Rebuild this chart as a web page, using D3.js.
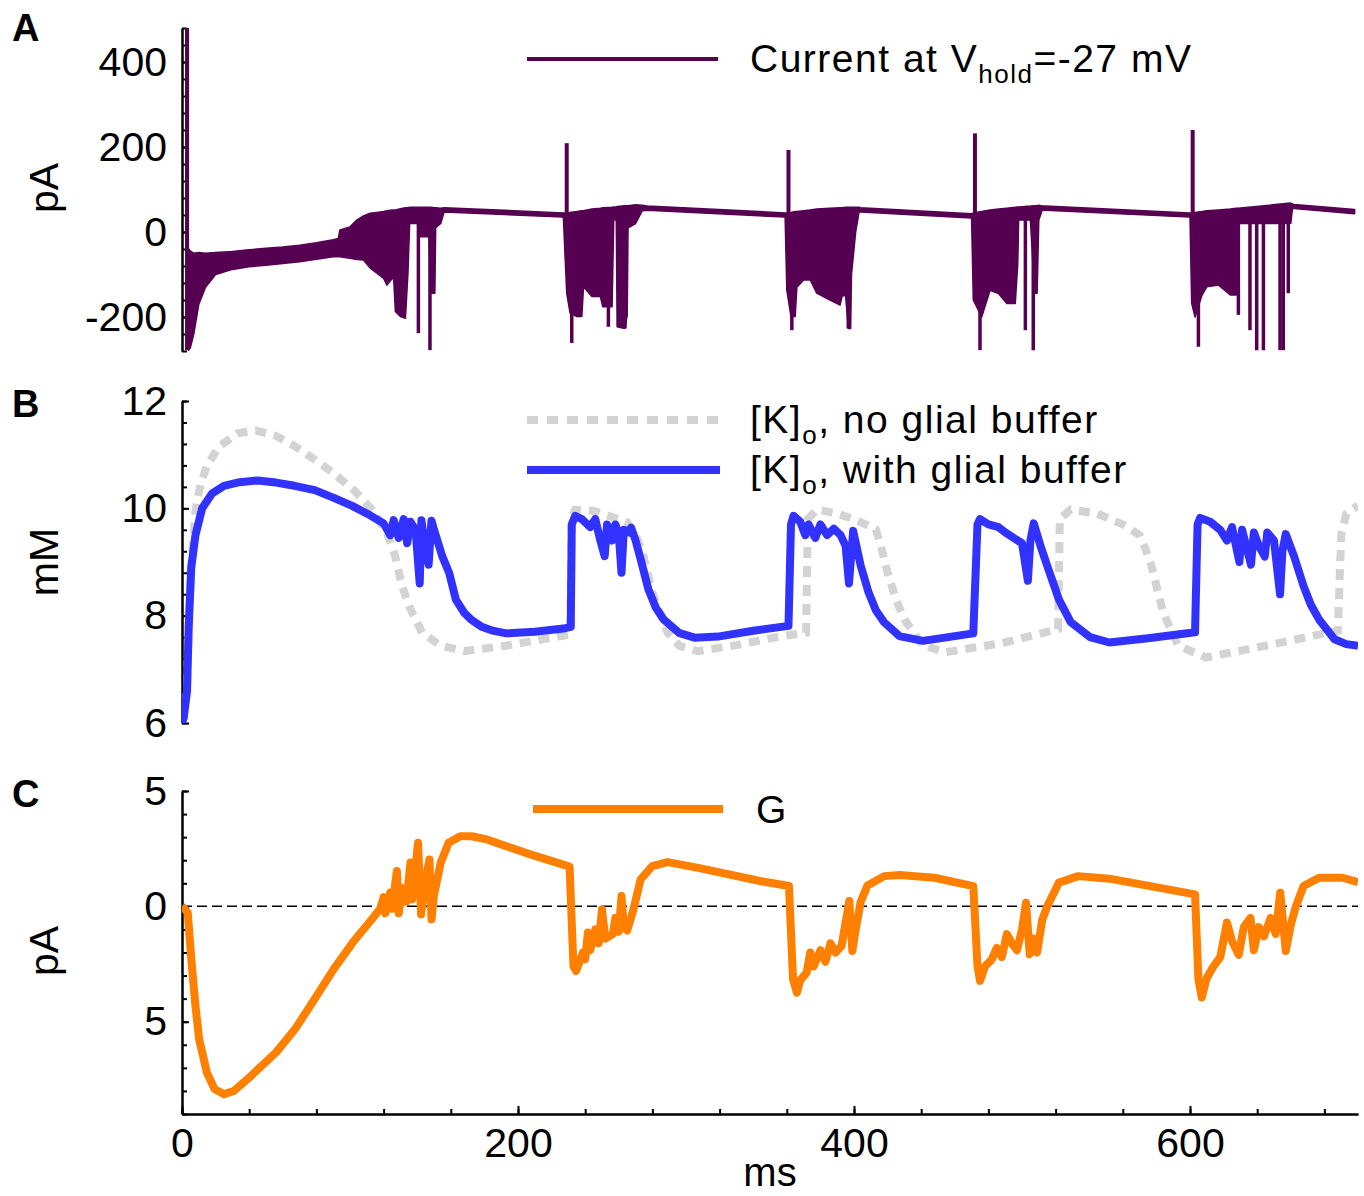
<!DOCTYPE html>
<html><head><meta charset="utf-8">
<script src="https://cdn.jsdelivr.net/npm/d3@7"></script>
<style>
body{margin:0;background:#fff}
svg{display:block}
text{font-family:"Liberation Sans",Arial,Helvetica,sans-serif}
</style>
</head><body>
<svg id="chart" width="1364" height="1196"></svg>
<script>
// ---------------- DATA ----------------
const xTicksMajor = [0, 200, 400, 600];
const xTickLabels = ["0", "200", "400", "600"];
const aTicksMajor = [-200, 0, 200, 400];
const aTickLabels = ["-200", "0", "200", "400"];
const bTicksMajor = [6, 8, 10, 12];
const bTickLabels = ["6", "8", "10", "12"];
const cTicksMajor = [-5, 0, 5];
const cTickLabels = ["5", "0", "5"];

// Panel A: current trace envelope [t (ms), upper pA, lower pA]
const currentBand = [
  [4,-40,-278],[5,-45,-272],[7,-50,-240],[10,-48,-170],[14,-50,-130],[20,-48,-100],
  [30,-46,-88],[40,-42,-82],[50,-38,-78],[60,-35,-74],[70,-31,-70],[80,-25,-64],
  [90,-18,-58],[93,-15,-58],[94,5,-58],[100,12,-62],[104,28,-65],[108,38,-66],
  [112,44,-85],[116,46,-97],[120,48,-109],[122,50,-125],[125,52,-110],[126,52,-110],
  [127,52,-187],[130,55,-199],[133,57,-203],[134.5,57,-97],[135.5,58,20],[141.5,58,20],
  [142,58,-11],[147,58,-11],[148,58,-144],[150.5,57,-144],[151,57,10],[154,56,20],
  [156,57,47],[227,45,35],
  [229,45,-144],[231,46,-191],[235,48,-199],[238,50,-199],[239,50,-129],[244,54,-152],
  [249,56,-152],[250.5,57,-176],[256,58,-176],[257,59,28],[258.5,59,28],[259,60,-223],
  [263.5,62,-227],[265,62,-197],[265.5,62,10],[270,64,20],[274,63,50],
  [277,61,51],[359,45,35],
  [360,45,-137],[362.5,46,-199],[365,48,-199],[366,48,-130],[370,50,-113],[374,52,-113],
  [377.8,54,-144],[385.7,56,-160],[391.7,57,-172],[393,57,-150],[395,58,-150],[396.6,58,-227],
  [398,58,-227],[398.5,58,-100],[401,58,0],[403,58,47],
  [404,57,47],[470,43,33],
  [471,45,-160],[476,48,-200],[481,52,-137],[486,54,-145],[491,56,-168],[496,58,-168],
  [497.5,59,-73],[498,59,28],[505,61,28],[507.5,62,-144],[509,62,-144],[510,63,28],[512,61,51],
  [514,61,51],[600,45,35],
  [601,45,-168],[603,46,-200],[607,48,-150],[610,50,-129],[617,52,-125],[624,54,-148],
  [627.5,56,-148],[628.5,56,20],[660,68,20],[661,66,56],
  [662,65,55],[698,53,43]
];
// Panel A: upward transients [t, peak pA]
const currentUpSpikes = [[3,480],[229,209],[361,193],[472,232],[601.6,240]];
// Panel A: downward transients [t, trough pA]
const currentDownSpikes = [
  [140.7,-238],[147.6,-278],
  [232,-261],[253.8,-223],[263.7,-227],
  [363,-231],[396.6,-227],
  [475,-278],[502,-231],[506.7,-278],
  [605,-270],[628.8,-195],[635.7,-231],[639.7,-278],[643.7,-278],[653.6,-278],[655.5,-278],[658.5,-144]
];

// Panel B: [K]o without glial buffer [t, mM]
const kNoBuffer = [
  [0,6.0],[1,6.1],[3,6.6],[4,7.8],[5.5,8.9],[8,9.95],[11,10.45],[15,10.8],[22,11.15],[33,11.4],
  [44,11.45],[56,11.35],[67,11.16],[79,10.91],[90,10.66],[102,10.35],[113,9.98],[122,9.55],
  [127,9.1],[131,8.55],[136,8.12],[143,7.68],[154,7.44],[168,7.34],[193,7.44],[231,7.65],
  [232,9.8],[234,9.97],[245,9.95],[255,9.85],[265,9.74],[270,9.5],[274,9.2],[280,8.43],
  [289,7.68],[296,7.44],[307,7.34],[330,7.45],[357,7.62],[371.5,7.68],[372.5,9.8],[378,9.98],
  [390,9.9],[400,9.8],[413,9.61],[416,9.3],[420,8.8],[425,8.3],[430,7.93],[441,7.44],[455,7.32],
  [490,7.5],[521.5,7.75],[522.5,9.8],[529,9.98],[545,9.9],[560,9.7],[570,9.5],[574,9.2],
  [577,8.93],[584,8.06],[593,7.44],[609.5,7.22],[645,7.44],[688,7.72],[690,9.5],[693,9.9],[700,10.05]
];
// Panel B: [K]o with glial buffer [t, mM]
const kBuffer = [
  [0,6.0],[1,6.1],[3,6.6],[4,7.8],[5.5,8.9],[8,9.5],[12,10.0],[18,10.28],[25,10.42],[33,10.48],
  [45,10.52],[56,10.48],[67,10.42],[79,10.34],[90,10.2],[101,10.05],[112,9.87],[120,9.72],
  [124,9.5],[126,9.78],[129,9.45],[132,9.8],[134,9.35],[136,9.75],[139,9.6],[141.5,8.6],
  [142.5,9.78],[145,9.2],[146.8,8.95],[148.5,9.77],[150,9.6],[155,9.1],[159,8.8],[163,8.3],
  [168,8.05],[172,7.93],[178,7.8],[185,7.72],[193,7.67],[210,7.7],[227,7.76],[231.4,7.79],
  [232,9.7],[234,9.86],[238,9.8],[243,9.65],[246,9.8],[249,9.4],[251.6,9.11],[253,9.7],[256,9.4],
  [258,9.7],[260,9.5],[261.6,8.8],[263,9.6],[266,9.55],[267.3,9.64],[270,9.4],[273,9.05],
  [277.6,8.49],[282,8.15],[286.7,7.93],[295.8,7.68],[305,7.59],[319,7.61],[340,7.72],[361,7.81],
  [362.5,9.7],[364,9.86],[368,9.75],[371,9.5],[373,9.7],[377,9.45],[380,9.7],[384,9.5],[388,9.62],
  [392,9.5],[395,9.3],[397,8.6],[399.5,9.58],[404,8.93],[408.7,8.43],[413,8.1],[417.8,7.88],
  [427,7.62],[441,7.53],[456,7.6],[471,7.67],[473.5,9.7],[475,9.8],[480,9.7],[486,9.65],[490,9.55],
  [495,9.45],[500,9.35],[503.5,8.65],[505,9.4],[507,9.72],[511,9.3],[515,8.93],[522,8.3],[529,7.88],
  [540.5,7.6],[552,7.5],[575,7.58],[603,7.69],[604.5,9.7],[606,9.82],[612,9.75],[618,9.6],[622,9.4],
  [625,9.65],[629.4,9.0],[631,9.6],[636.3,8.95],[638,9.55],[641,9.3],[644.5,9.1],[646,9.55],[650,9.4],
  [653.6,8.4],[655,9.2],[657,9.52],[662,9.1],[667.6,8.55],[672,8.2],[676.8,7.93],[686,7.56],[693,7.47],[700,7.44]
];

// Panel C: G [t, pA]
const gCurrent = [
  [0,0],[1,-0.06],[3.4,-0.27],[5.7,-2.43],[8,-4.3],[10.2,-5.76],[14.8,-7.2],[19.4,-7.92],[25,-8.14],
  [30.8,-8.0],[40,-7.42],[56,-6.33],[67.3,-5.32],[78.8,-4.03],[90.2,-2.73],[101.6,-1.57],[113,-0.56],
  [118,-0.1],[120,0.4],[121,-0.3],[124,0.6],[125,-0.1],[127.9,1.53],[129,-0.3],[131,0.8],[133.6,0.2],
  [136,1.9],[137,0.3],[140.5,2.76],[142.3,-0.35],[145,1.2],[147.3,2.03],[148.5,-0.56],[150,0.5],
  [154,1.89],[158.7,2.76],[165.6,3.04],[172.4,3.04],[181.5,2.9],[204.5,2.32],[230.7,1.72],
  [233,-2.58],[234.5,-2.8],[238.7,-2.0],[240,-2.3],[241.6,-1.13],[243,-1.9],[246,-1.0],[248,-1.6],
  [250,-0.13],[252,-1.4],[256.4,-1.2],[258,-0.5],[260,-1.1],[261.6,0.45],[263,-0.9],[265,-1.05],
  [268.5,-0.2],[273,1.17],[279.9,1.74],[289,1.92],[307.3,1.67],[344,1.1],[361.3,0.88],
  [363.7,-3.16],[366,-3.74],[368,-3.2],[371.8,-2.87],[374,-2.0],[376,-2.6],[380,-1.9],[383,-2.4],
  [386,-1.6],[389,-2.0],[392.6,-1.72],[397.2,0.23],[399,-1.93],[401,-1.0],[404,0.2],[408,0.9],
  [418,1.31],[427,1.36],[448,1.24],[471,0.88],[473.5,-2.58],[475,-3.23],[478,-2.6],[482,-2.3],
  [485,-1.8],[488,-2.2],[491,-1.2],[494,-1.6],[497,-1.9],[500,-1.0],[502.4,0.16],[504.6,-2.08],
  [507,-1.4],[509,-2.0],[512,-0.6],[515,0],[522,1.03],[533.5,1.31],[552,1.2],[603,0.52],
  [605,-3.16],[607,-3.95],[610,-3.1],[614,-2.6],[618,-2.2],[622,-0.7],[625,-1.5],[629,-2.1],
  [632,-0.9],[636,-0.5],[638,-1.9],[641,-0.9],[644,-1.3],[648,-0.5],[651,-1.2],[653.7,0.59],
  [657,-1.93],[660,-0.8],[663,0],[667.6,0.88],[676.8,1.24],[690.7,1.24],[700,1.05]
];

// ---------------- CHART ----------------
const purple = "#560052", blue = "#3232ff", grey = "#d3d3d3", orange = "#ff8000";
const FONT = 41;
const LFONT = 39;
const svg = d3.select("#chart");

const x = d3.scaleLinear().domain([0, 700]).range([182, 1358]);
const yA = d3.scaleLinear().domain([-280, 480]).range([351, 28]);
const yB = d3.scaleLinear().domain([6, 12]).range([723, 401]);
const yC = d3.scaleLinear().domain([-9, 5]).range([1114, 791]);

const defs = svg.append("defs");
function clip(id, y) {
  const r = y.range();
  defs.append("clipPath").attr("id", id).append("rect")
    .attr("x", x.range()[0]).attr("y", r[1])
    .attr("width", x.range()[1] - x.range()[0]).attr("height", r[0] - r[1]);
}
clip("clipA", yA); clip("clipB", yB); clip("clipC", yC);

function minorTicks(lo, hi, step) {
  const n = Math.round((hi - lo) / step);
  return d3.range(n + 1).map(i => +(lo + i * step).toFixed(6));
}

function styleAxis(gg) {
  gg.attr("font-size", FONT).attr("font-family", '"Liberation Sans",Arial,sans-serif');
  gg.selectAll("path,line").attr("stroke", "#000").attr("stroke-width", 2);
  gg.selectAll("text").attr("fill", "#000");
}

function yAxis(y, major, labels, minorStep) {
  const g = svg.append("g").attr("transform", `translate(${x.range()[0]},0)`);
  const d = y.domain();
  g.call(d3.axisLeft(y).tickValues(minorTicks(d[0], d[1], minorStep)).tickSize(-5).tickSizeOuter(0).tickFormat(""));
  const g2 = svg.append("g").attr("transform", `translate(${x.range()[0]},0)`);
  g2.call(d3.axisLeft(y).tickValues(major).tickSize(-7).tickSizeOuter(0).tickPadding(15)
    .tickFormat((v, i) => labels[i]));
  styleAxis(g); styleAxis(g2);
}
yAxis(yA, aTicksMajor, aTickLabels, 40);
yAxis(yB, bTicksMajor, bTickLabels, 0.4);
yAxis(yC, cTicksMajor, cTickLabels, 1);

// x axis (bottom of panel C)
{
  const g = svg.append("g").attr("transform", `translate(0,${yC.range()[0]})`);
  g.call(d3.axisBottom(x).tickValues(minorTicks(0, 680, 40)).tickSize(-5).tickSizeOuter(0).tickFormat(""));
  const g2 = svg.append("g").attr("transform", `translate(0,${yC.range()[0]})`);
  g2.call(d3.axisBottom(x).tickValues(xTicksMajor).tickSize(-8).tickSizeOuter(0).tickPadding(14)
    .tickFormat((v, i) => xTickLabels[i]));
  styleAxis(g); styleAxis(g2);
}

// axis titles
function vlabel(txt, px, py) {
  svg.append("text").attr("transform", `translate(${px},${py}) rotate(-90)`)
    .attr("text-anchor", "middle").attr("font-size", FONT).text(txt);
}
vlabel("pA", 58, 188);
vlabel("mM", 58, 562);
vlabel("pA", 58, 951);
svg.append("text").attr("x", 770).attr("y", 1186).attr("text-anchor", "middle")
  .attr("font-size", 40).text("ms");

// panel letters
[["A", 41], ["B", 417], ["C", 807]].forEach(([l, yy]) => {
  svg.append("text").attr("x", 12).attr("y", yy).attr("font-size", 38)
    .attr("font-weight", "bold").text(l);
});

// ----- Panel A -----
const pA = svg.append("g").attr("clip-path", "url(#clipA)");
pA.append("path").datum(currentBand)
  .attr("d", d3.area().x(d => x(d[0])).y0(d => yA(d[2])).y1(d => yA(d[1])))
  .attr("fill", purple).attr("stroke", purple).attr("stroke-width", 1.5).attr("stroke-linejoin", "round");
pA.selectAll(".up").data(currentUpSpikes).join("line")
  .attr("x1", d => x(d[0])).attr("x2", d => x(d[0]))
  .attr("y1", d => yA(d[0] < 10 ? -278 : -60)).attr("y2", d => yA(d[1]))
  .attr("stroke", purple).attr("stroke-width", 4);
pA.selectAll(".dn").data(currentDownSpikes).join("line")
  .attr("x1", d => x(d[0])).attr("x2", d => x(d[0]))
  .attr("y1", d => yA(30)).attr("y2", d => yA(d[1]))
  .attr("stroke", purple).attr("stroke-width", 3.5);

// ----- Panel B -----
const pB = svg.append("g").attr("clip-path", "url(#clipB)");
const lineB = d3.line().x(d => x(d[0])).y(d => yB(d[1]));
pB.append("path").datum(kNoBuffer).attr("d", lineB).attr("fill", "none")
  .attr("stroke", grey).attr("stroke-width", 8).attr("stroke-dasharray", "11,8");
pB.append("path").datum(kBuffer).attr("d", lineB).attr("fill", "none")
  .attr("stroke", blue).attr("stroke-width", 8).attr("stroke-linejoin", "round");

// ----- Panel C -----
svg.append("line").attr("x1", x(0)).attr("x2", x(700)).attr("y1", yC(0)).attr("y2", yC(0))
  .attr("stroke", "#000").attr("stroke-width", 1.5).attr("stroke-dasharray", "10,5");
const pC = svg.append("g").attr("clip-path", "url(#clipC)");
pC.append("path").datum(gCurrent)
  .attr("d", d3.line().x(d => x(d[0])).y(d => yC(d[1])))
  .attr("fill", "none").attr("stroke", orange).attr("stroke-width", 8).attr("stroke-linejoin", "round");

// ----- Legends -----
function legendText(px, py, parts) {
  const t = svg.append("text").attr("x", px).attr("y", py).attr("font-size", LFONT).attr("letter-spacing", 1.5);
  let prevSub = false;
  parts.forEach(([s, sub]) => {
    if (sub) { t.append("tspan").attr("font-size", 26).attr("dy", 11).text(s); prevSub = true; }
    else { t.append("tspan").attr("dy", prevSub ? -11 : 0).text(s); prevSub = false; }
  });
}
svg.append("line").attr("x1", 527).attr("x2", 718).attr("y1", 59).attr("y2", 59)
  .attr("stroke", purple).attr("stroke-width", 4);
legendText(750, 72, [["Current at V"], ["hold", true], ["=-27 mV"]]);

svg.append("line").attr("x1", 527).attr("x2", 720).attr("y1", 420).attr("y2", 420)
  .attr("stroke", grey).attr("stroke-width", 8).attr("stroke-dasharray", "11,9");
legendText(750, 433, [["[K]"], ["o", true], [", no glial buffer"]]);
svg.append("line").attr("x1", 527).attr("x2", 720).attr("y1", 470).attr("y2", 470)
  .attr("stroke", blue).attr("stroke-width", 8);
legendText(750, 483, [["[K]"], ["o", true], [", with glial buffer"]]);

svg.append("line").attr("x1", 533).attr("x2", 723).attr("y1", 809).attr("y2", 809)
  .attr("stroke", orange).attr("stroke-width", 8);
legendText(756, 823, [["G"]]);
</script>
</body></html>
